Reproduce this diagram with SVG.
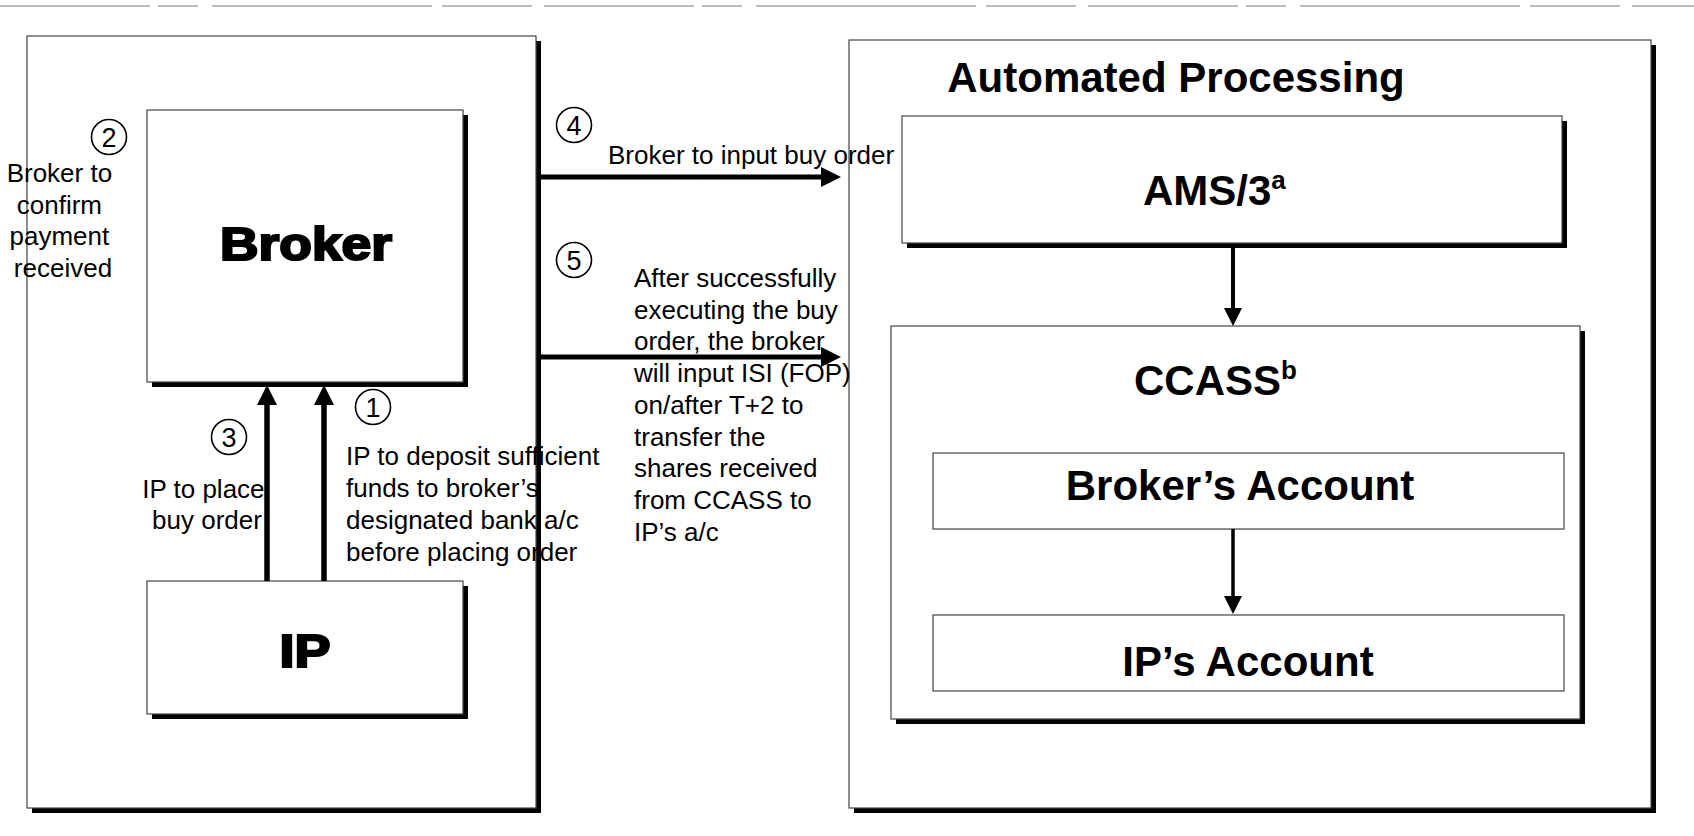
<svg xmlns="http://www.w3.org/2000/svg" width="1694" height="836" viewBox="0 0 1694 836">
<style>
  text { font-family: "Liberation Sans", Arial, sans-serif; fill: #000; }
  .lbl { font-size: 26px; }
  .num { font-size: 27px; text-anchor: middle; }
  .hd { font-size: 42px; font-weight: bold; }
  .blk { font-size: 46px; font-weight: bold; stroke: #000; stroke-width: 2.2; text-anchor: middle; }
  .box { fill: #fff; stroke: #444; stroke-width: 1.2; }
  .shadow { fill: #000; }
  .circ { fill: none; stroke: #000; stroke-width: 1.6; }
  .conn { stroke: #000; fill: none; }
</style>
<defs>
  <marker id="ah" viewBox="0 0 20 20" refX="0" refY="10" markerWidth="20" markerHeight="20" orient="auto" markerUnits="userSpaceOnUse">
    <path d="M0,0 L20,10 L0,20 z" fill="#000"/>
  </marker>
  <marker id="ahs" viewBox="0 0 18 18" refX="0" refY="9" markerWidth="18" markerHeight="18" orient="auto" markerUnits="userSpaceOnUse">
    <path d="M0,0 L18,9 L0,18 z" fill="#000"/>
  </marker>
</defs>
<rect width="1694" height="836" fill="#fff"/>
<line x1="0" y1="6" x2="1694" y2="6" stroke="#777" stroke-width="1" stroke-dasharray="150 8 40 14 220 10 90 12"/>

<g id="left-panel">
  <rect class="shadow" x="32" y="41" width="509" height="772"/>
  <rect class="box" x="27" y="36" width="509" height="772"/>
</g>

<g id="right-panel">
  <rect class="shadow" x="854" y="45" width="802" height="768"/>
  <rect class="box" x="849" y="40" width="802" height="768"/>
  <text class="hd" x="1176" y="92" text-anchor="middle">Automated Processing</text>
</g>

<g id="broker">
  <rect class="shadow" x="152" y="115" width="316" height="272"/>
  <rect class="box" x="147" y="110" width="316" height="272"/>
  <text class="blk" x="306" y="260" textLength="172" lengthAdjust="spacingAndGlyphs">Broker</text>
</g>

<g id="ip">
  <rect class="shadow" x="152" y="586" width="316" height="133"/>
  <rect class="box" x="147" y="581" width="316" height="133"/>
  <text class="blk" x="305" y="667" textLength="51" lengthAdjust="spacingAndGlyphs">IP</text>
</g>

<g id="ams3">
  <rect class="shadow" x="907" y="121" width="660" height="127"/>
  <rect class="box" x="902" y="116" width="660" height="127"/>
  <text class="hd" x="1143" y="205">AMS/3<tspan font-size="26" dy="-16">a</tspan></text>
</g>

<g id="ccass">
  <rect class="shadow" x="896" y="331" width="689" height="393"/>
  <rect class="box" x="891" y="326" width="689" height="393"/>
  <text class="hd" x="1134" y="395">CCASS<tspan font-size="26" dy="-16">b</tspan></text>
</g>

<g id="brokers-account">
  <rect class="box" x="933" y="453" width="631" height="76"/>
  <text class="hd" x="1240" y="500" text-anchor="middle">Broker’s Account</text>
</g>

<g id="ips-account">
  <rect class="box" x="933" y="615" width="631" height="76"/>
  <text class="hd" x="1248" y="676" text-anchor="middle">IP’s Account</text>
</g>

<g id="connectors">
  <line class="conn" x1="540" y1="177" x2="821" y2="177" stroke-width="5" marker-end="url(#ah)"/>
  <line class="conn" x1="540" y1="357" x2="821" y2="357" stroke-width="5" marker-end="url(#ah)"/>
  <line class="conn" x1="267" y1="581" x2="267" y2="405" stroke-width="5.5" marker-end="url(#ah)"/>
  <line class="conn" x1="324" y1="581" x2="324" y2="405" stroke-width="5.5" marker-end="url(#ah)"/>
  <line class="conn" x1="1233" y1="248" x2="1233" y2="308" stroke-width="4" marker-end="url(#ahs)"/>
  <line class="conn" x1="1233" y1="529" x2="1233" y2="596" stroke-width="3.5" marker-end="url(#ahs)"/>
</g>

<g id="step-labels">
  <circle class="circ" cx="109" cy="137" r="17.5"/>
  <text class="num" x="109" y="147">2</text>
  <circle class="circ" cx="574" cy="125" r="17.5"/>
  <text class="num" x="574" y="135">4</text>
  <circle class="circ" cx="574" cy="260" r="17.5"/>
  <text class="num" x="574" y="270">5</text>
  <circle class="circ" cx="229" cy="437" r="17.5"/>
  <text class="num" x="229" y="447">3</text>
  <circle class="circ" cx="373" cy="407" r="17.5"/>
  <text class="num" x="373" y="417">1</text>

  <text class="lbl" text-anchor="middle">
    <tspan x="63" y="182">Broker to</tspan>
    <tspan x="63" y="213.5">confirm</tspan>
    <tspan x="63" y="245">payment</tspan>
    <tspan x="63" y="276.5">received</tspan>
  </text>
  <text class="lbl" text-anchor="middle">
    <tspan x="207" y="498">IP to place</tspan>
    <tspan x="207" y="529">buy order</tspan>
  </text>
  <text class="lbl">
    <tspan x="346" y="465">IP to deposit sufficient</tspan>
    <tspan x="346" y="497">funds to broker’s</tspan>
    <tspan x="346" y="529">designated bank  a/c</tspan>
    <tspan x="346" y="561">before placing order</tspan>
  </text>
  <text class="lbl" x="608" y="164">Broker to input buy order</text>
  <text class="lbl">
    <tspan x="634" y="287">After successfully</tspan>
    <tspan x="634" y="318.7">executing the buy</tspan>
    <tspan x="634" y="350.4">order, the broker</tspan>
    <tspan x="634" y="382.1">will input ISI (FOP)</tspan>
    <tspan x="634" y="413.8">on/after T+2 to</tspan>
    <tspan x="634" y="445.5">transfer  the</tspan>
    <tspan x="634" y="477.2">shares received</tspan>
    <tspan x="634" y="508.9">from CCASS to</tspan>
    <tspan x="634" y="540.6">IP’s a/c</tspan>
  </text>
</g>
</svg>
